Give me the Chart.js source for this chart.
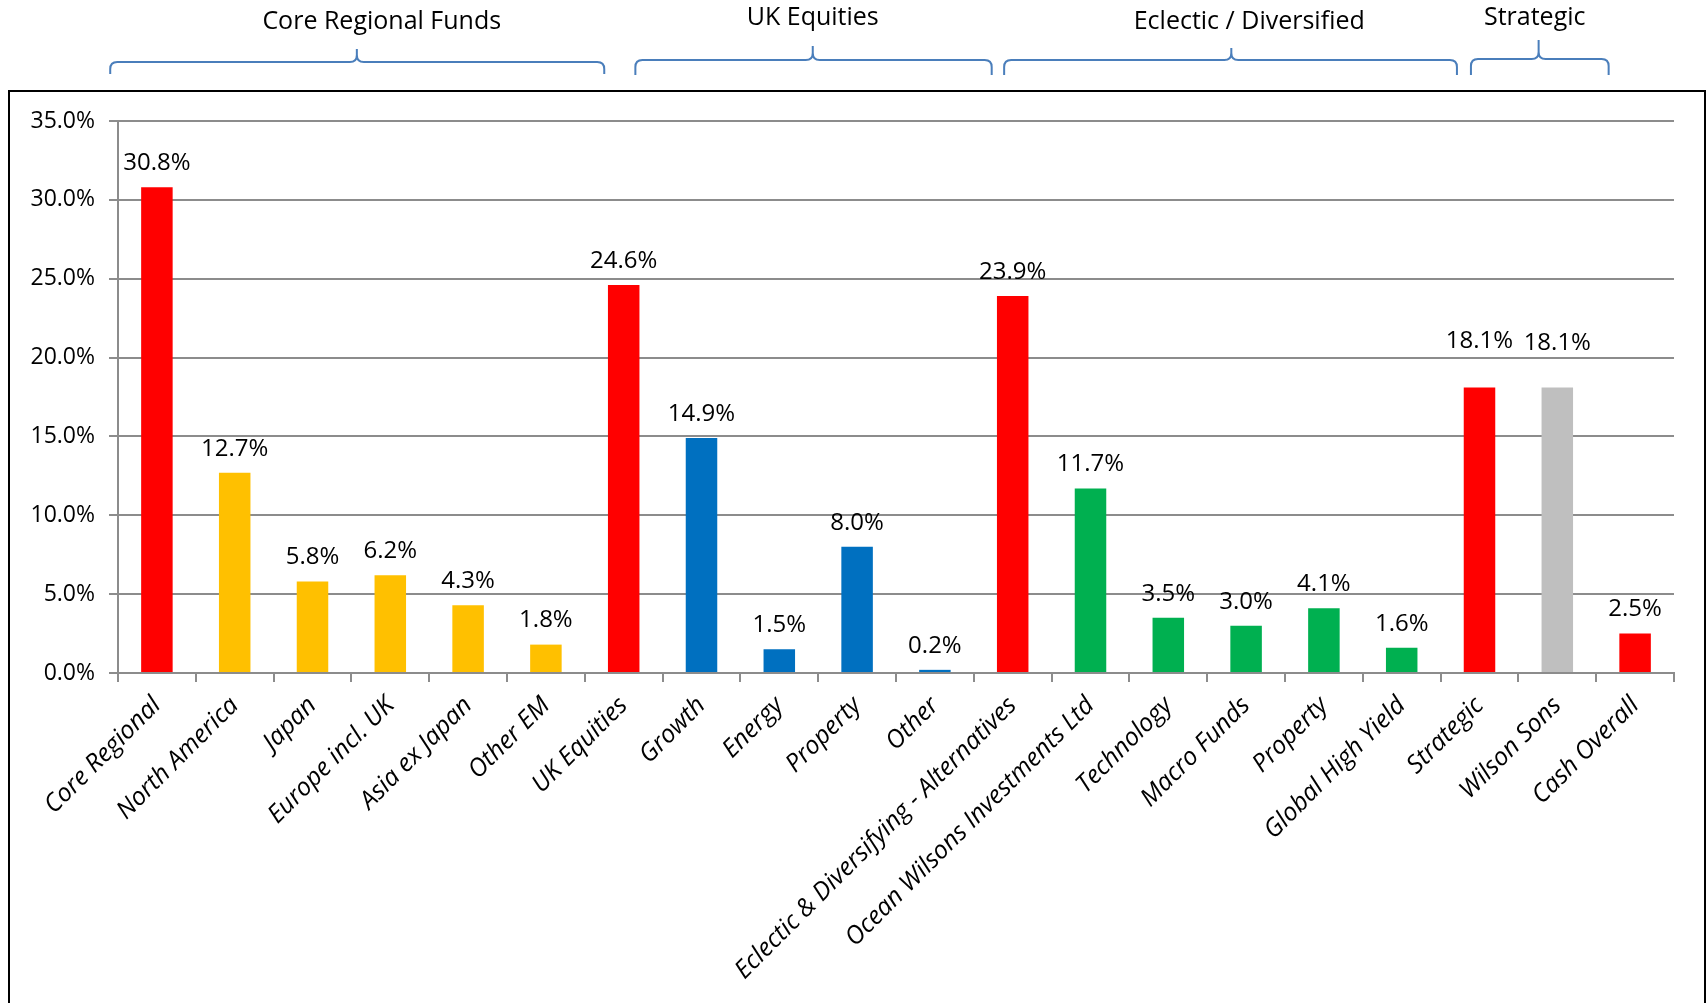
<!DOCTYPE html>
<html lang="en">
<head>
    <meta charset="UTF-8">
    <title>Portfolio Allocation</title>
    <script src="https://cdn.jsdelivr.net/npm/chart.js@4/dist/chart.umd.min.js"></script>
    <style>
        body { margin: 0; background: #fff; }
        #wrap { width: 1707px; height: 1003px; }
    </style>
</head>
<body>
    <div id="wrap"><canvas id="allocChart" width="1707" height="1003"></canvas></div>

    <script>
        // Categories and weights (%)
        const categories = [
            'Core Regional', 'North America', 'Japan', 'Europe incl. UK', 'Asia ex Japan', 'Other EM',
            'UK Equities', 'Growth', 'Energy', 'Property', 'Other',
            'Eclectic & Diversifying - Alternatives', 'Ocean Wilsons Investments Ltd', 'Technology',
            'Macro Funds', 'Property', 'Global High Yield',
            'Strategic', 'Wilson Sons', 'Cash Overall'
        ];
        const weights = [30.8, 12.7, 5.8, 6.2, 4.3, 1.8, 24.6, 14.9, 1.5, 8.0, 0.2,
                         23.9, 11.7, 3.5, 3.0, 4.1, 1.6, 18.1, 18.1, 2.5];
        const barColors = [
            '#FF0000', '#FFC000', '#FFC000', '#FFC000', '#FFC000', '#FFC000',
            '#FF0000', '#0070C0', '#0070C0', '#0070C0', '#0070C0',
            '#FF0000', '#00B050', '#00B050', '#00B050', '#00B050', '#00B050',
            '#FF0000', '#BFBFBF', '#FF0000'
        ];
        const yTicks = [0, 5, 10, 15, 20, 25, 30, 35];

        // Group headings over the categories
        const groupNames = ['Core Regional Funds', 'UK Equities', 'Eclectic / Diversified', 'Strategic'];

        const FONT = "'Open Sans', sans-serif";
        const GRID = '#8C8C8C';

        // brace spans in category units; y values in px
        const braces = [
            { from: -0.60, to: 5.75, tip: 2.57, text: 2.89, line: 62, tipY: 49, end: 74, textY: 22 },
            { from: 6.15, to: 10.73, tip: 8.43, text: 8.43, line: 60, tipY: 46, end: 75, textY: 18 },
            { from: 10.89, to: 16.71, tip: 13.81, text: 14.04, line: 60, tipY: 48, end: 75, textY: 22 },
            { from: 16.89, to: 18.66, tip: 17.76, text: 17.71, line: 59, tipY: 40, end: 75, textY: 18 }
        ];

        // a few value labels sit higher than the rest
        const labelLift = { 17: 22, 18: 20 };

        const framePlugin = {
            id: 'frame',
            beforeDraw(chart) {
                const ctx = chart.ctx;
                ctx.save();
                ctx.strokeStyle = '#000';
                ctx.lineWidth = 2;
                ctx.strokeRect(9, 91, 1696, 1000);
                ctx.restore();
            }
        };

        function drawBrace(ctx, x0, x1, xm, yLine, yTip, yEnd) {
            const r = 7;
            ctx.beginPath();
            ctx.moveTo(x0, yEnd);
            ctx.lineTo(x0, yLine + r);
            ctx.quadraticCurveTo(x0, yLine, x0 + r, yLine);
            ctx.lineTo(xm - r, yLine);
            ctx.quadraticCurveTo(xm, yLine, xm, yLine - r);
            ctx.lineTo(xm, yTip);
            ctx.moveTo(xm, yLine - r);
            ctx.quadraticCurveTo(xm, yLine, xm + r, yLine);
            ctx.lineTo(x1 - r, yLine);
            ctx.quadraticCurveTo(x1, yLine, x1, yLine + r);
            ctx.lineTo(x1, yEnd);
            ctx.stroke();
        }

        const groupPlugin = {
            id: 'groups',
            afterDraw(chart) {
                const ctx = chart.ctx;
                const x = chart.scales.x;
                ctx.save();
                ctx.strokeStyle = '#4A7EBB';
                ctx.lineWidth = 2;
                ctx.fillStyle = '#000';
                ctx.font = '25px ' + FONT;
                ctx.textAlign = 'center';
                ctx.textBaseline = 'middle';
                braces.forEach((b, i) => {
                    drawBrace(ctx, x.getPixelForValue(b.from), x.getPixelForValue(b.to),
                        x.getPixelForValue(b.tip), b.line, b.tipY, b.end);
                    ctx.fillText(groupNames[i], x.getPixelForValue(b.text), b.textY);
                });
                ctx.restore();
            }
        };

        // value labels above each bar
        const valueLabels = {
            id: 'valueLabels',
            afterDatasetsDraw(chart) {
                const ctx = chart.ctx;
                const meta = chart.getDatasetMeta(0);
                ctx.save();
                ctx.fillStyle = '#000';
                ctx.font = '24px ' + FONT;
                ctx.textAlign = 'center';
                ctx.textBaseline = 'bottom';
                meta.data.forEach((bar, i) => {
                    const lift = 12 + (labelLift[i] || 0);
                    ctx.fillText(weights[i].toFixed(1) + '%', bar.x, bar.y - lift);
                });
                ctx.restore();
            }
        };

        new Chart(document.getElementById('allocChart'), {
            type: 'bar',
            data: {
                labels: categories,
                datasets: [{
                    data: weights,
                    backgroundColor: barColors,
                    categoryPercentage: 1,
                    barPercentage: 0.405
                }]
            },
            options: {
                responsive: false,
                animation: false,
                layout: { padding: { top: 121, right: 33, left: 0, bottom: 0 } },
                plugins: {
                    legend: { display: false },
                    tooltip: { enabled: false }
                },
                scales: {
                    x: {
                        afterFit(scale) { scale.height = 330; },
                        grid: { offset: true, drawOnChartArea: false, color: GRID, lineWidth: 2, tickLength: 9 },
                        border: { color: GRID, width: 2 },
                        ticks: {
                            autoSkip: false,
                            maxRotation: 45,
                            minRotation: 45,
                            padding: 9,
                            color: '#000',
                            font: { family: FONT, size: 25, style: 'italic' }
                        }
                    },
                    y: {
                        min: 0,
                        max: 35,
                        afterFit(scale) { scale.width = 118; },
                        afterBuildTicks(scale) { scale.ticks = yTicks.map(v => ({ value: v })); },
                        grid: { color: GRID, lineWidth: 2, tickLength: 9 },
                        border: { color: GRID, width: 2 },
                        ticks: {
                            padding: 14,
                            color: '#000',
                            font: { family: FONT, size: 23 },
                            callback: v => v.toFixed(1) + '%'
                        }
                    }
                }
            },
            plugins: [framePlugin, groupPlugin, valueLabels]
        });
    </script>
</body>
</html>
